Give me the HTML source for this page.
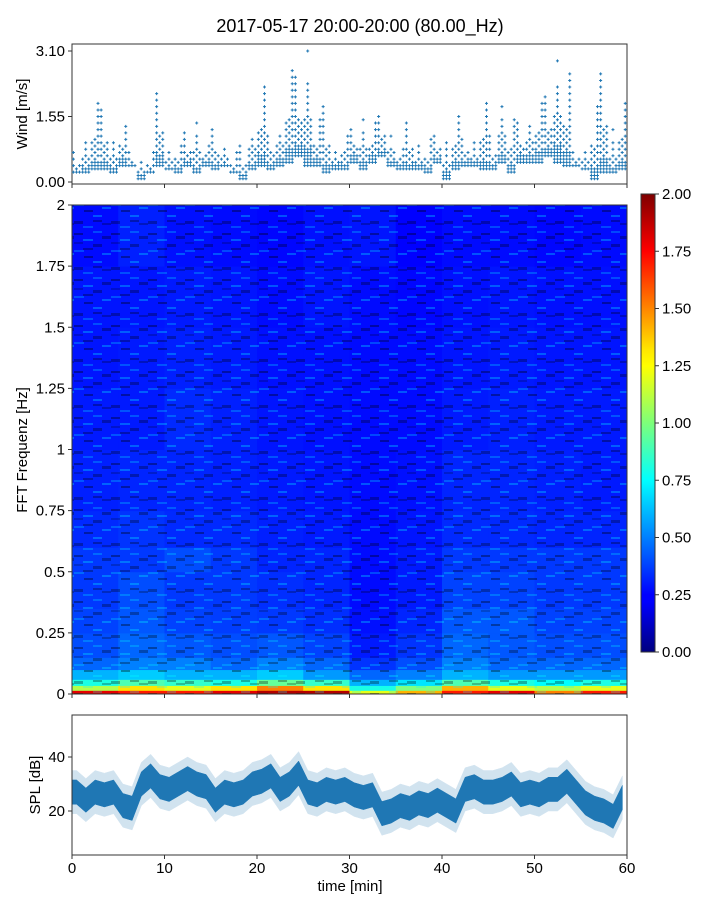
<!DOCTYPE html>
<html><head><meta charset="utf-8"><style>
body{margin:0;background:#fff;font-family:"Liberation Sans",sans-serif}
svg text{font-family:"Liberation Sans",sans-serif;fill:#000}
</style></head><body>
<svg id="c" width="720" height="900" xmlns="http://www.w3.org/2000/svg">
<defs>
<pattern id="tex" width="37" height="46" patternUnits="userSpaceOnUse">
<rect x="0" y="3" width="9" height="2" fill="#000" opacity="0.35"/>
<rect x="9" y="9" width="10" height="2" fill="#0ff" opacity="0.3"/>
<rect x="19" y="14" width="9" height="3" fill="#000" opacity="0.3"/>
<rect x="0" y="20" width="10" height="2" fill="#0ff" opacity="0.25"/>
<rect x="10" y="26" width="9" height="2" fill="#000" opacity="0.35"/>
<rect x="19" y="31" width="9" height="2" fill="#0ff" opacity="0.3"/>
<rect x="0" y="37" width="9" height="3" fill="#000" opacity="0.3"/>
<rect x="9" y="42" width="10" height="2" fill="#0ff" opacity="0.25"/>
<rect x="19" y="1" width="9" height="2" fill="#0ff" opacity="0.25"/>
<rect x="9" y="18" width="10" height="2" fill="#000" opacity="0.3"/>
<rect x="28" y="6" width="9" height="3" fill="#000" opacity="0.3"/>
<rect x="28" y="23" width="9" height="2" fill="#0ff" opacity="0.3"/>
<rect x="28" y="39" width="9" height="2" fill="#000" opacity="0.25"/>
<rect x="0" y="12" width="9" height="2" fill="#000" opacity="0.2"/>
<rect x="19" y="36" width="9" height="2" fill="#000" opacity="0.3"/>
</pattern>
<linearGradient id="jetg" x1="0" y1="1" x2="0" y2="0">
<stop offset="0" stop-color="#00007f"/><stop offset="0.11" stop-color="#0000ff"/>
<stop offset="0.125" stop-color="#0000ff"/><stop offset="0.34" stop-color="#00dbff"/>
<stop offset="0.375" stop-color="#00ffff"/><stop offset="0.5" stop-color="#7dff7a"/>
<stop offset="0.625" stop-color="#ffff00"/><stop offset="0.66" stop-color="#ffe600"/>
<stop offset="0.875" stop-color="#ff0000"/><stop offset="1" stop-color="#7f0000"/>
</linearGradient>
</defs>
<text x="360" y="32" font-size="18" text-anchor="middle">2017-05-17 20:00-20:00 (80.00_Hz)</text>
<g id="wind"></g>
<g id="heat"></g>
<g id="cbar"></g>
<g id="spl"></g>
</svg>
<script>
// ---- data ----
const windLo=[0.2,0.2,0.3,0.3,0.2,0.4,0.4,0.1,0.2,0.4,0.3,0.2,0.4,0.2,0.4,0.3,0.4,0.2,0.1,0.3,0.4,0.3,0.4,0.5,0.6,0.4,0.4,0.2,0.3,0.3,0.5,0.3,0.5,0.6,0.4,0.3,0.3,0.3,0.2,0.5,0.1,0.3,0.4,0.4,0.3,0.3,0.5,0.2,0.5,0.5,0.5,0.6,0.5,0.4,0.4,0.3,0.1,0.2,0.2,0.3];
const windHi=[0.7,1.0,1.9,1.8,1.0,1.45,0.7,0.5,0.7,2.1,0.7,1.0,1.2,1.4,1.0,1.3,0.8,0.7,0.9,1.4,2.3,1.2,1.5,2.7,2.6,3.1,1.5,1.8,1.0,1.2,1.3,1.5,1.4,1.7,1.1,0.9,1.4,0.9,1.1,1.2,1.0,1.6,1.1,1.0,1.9,1.1,1.8,1.5,1.4,1.6,2.0,2.1,2.9,2.6,0.8,0.7,1.9,2.7,1.3,1.9];
const freqEdges=[0,0.015,0.035,0.06,0.1,0.15,0.25,0.35,0.5,0.6,0.75,1,1.25,1.5,1.75,2];
const heatVals=[
[1.8,1.7,1.7,1.8,1.9,1.9,1.2,1.4,1.7,1.8,1.5,1.7],
[1.1,1.3,1.2,1.3,1.5,1.3,0.8,1.0,1.4,1.2,1.1,1.2],
[0.8,0.9,0.85,0.8,0.95,0.85,0.6,0.7,0.9,0.8,0.75,0.8],
[0.6,0.65,0.6,0.6,0.65,0.55,0.45,0.5,0.6,0.55,0.55,0.55],
[0.45,0.5,0.5,0.45,0.5,0.45,0.35,0.4,0.5,0.45,0.45,0.45],
[0.4,0.45,0.42,0.4,0.42,0.38,0.3,0.35,0.45,0.42,0.4,0.4],
[0.38,0.42,0.38,0.37,0.36,0.34,0.28,0.32,0.42,0.42,0.38,0.38],
[0.36,0.4,0.36,0.36,0.34,0.32,0.27,0.3,0.38,0.38,0.36,0.36],
[0.36,0.36,0.4,0.36,0.32,0.32,0.27,0.3,0.36,0.36,0.36,0.36],
[0.33,0.35,0.33,0.33,0.31,0.3,0.27,0.29,0.33,0.33,0.32,0.32],
[0.31,0.32,0.32,0.31,0.3,0.29,0.27,0.28,0.32,0.32,0.31,0.3],
[0.3,0.3,0.33,0.31,0.29,0.28,0.27,0.27,0.3,0.31,0.3,0.3],
[0.29,0.3,0.31,0.3,0.28,0.28,0.27,0.27,0.29,0.3,0.29,0.29],
[0.29,0.29,0.3,0.29,0.27,0.29,0.27,0.26,0.28,0.29,0.28,0.28],
[0.27,0.31,0.28,0.27,0.26,0.28,0.29,0.25,0.27,0.27,0.26,0.27]];
const splMean=[27,24,27,26,27,22,21,30,33,29,28,30,32,30,29,24,27,26,27,30,31,33,28,30,34,27,26,28,27,28,26,25,26,19,20,22,21,23,22,24,22,20,28,29,27,27,28,30,26,27,26,28,28,31,27,23,21,20,18,25];
const windTicks=[0,1.55,3.10];
const freqTicks=[0,0.25,0.5,0.75,1,1.25,1.5,1.75,2];
const freqTickLabels=["0","0.25","0.5","0.75","1","1.25","1.5","1.75","2"];
const cbTicks=[0,0.25,0.5,0.75,1,1.25,1.5,1.75,2];
const splTicks=[20,40];
const timeTicks=[0,10,20,30,40,50,60];

// ---- helpers ----
const NS="http://www.w3.org/2000/svg";
function mk(tag,attrs,parent){const e=document.createElementNS(NS,tag);for(const k in attrs)e.setAttribute(k,attrs[k]);parent.appendChild(e);return e;}
const X0=72,X1=627;
const xs=t=>X0+(X1-X0)*t/60;
const yWind=v=>182-v*(182-51)/3.1;
const yFreq=f=>694-f*(694-205)/2;
const yCb=v=>652-v*(652-194)/2;
const ySpl=v=>811-(v-20)*(811-757)/20;
function jet(v){let t=Math.max(0,Math.min(1,v/2));
 const f=x=>Math.max(0,Math.min(1,x));
 const r=f(Math.min(4*t-1.5,-4*t+4.5)),g=f(Math.min(4*t-0.5,-4*t+3.5)),b=f(Math.min(4*t+0.5,-4*t+2.5));
 return `rgb(${Math.round(r*255)},${Math.round(g*255)},${Math.round(b*255)})`;}
function frame(g,y0,y1,name){const r=mk('rect',{x:X0,y:y0,width:X1-X0,height:y1-y0,fill:'none',stroke:'#333','stroke-width':1},g);
 
 }
function ytick(g,y,label,name){mk('line',{x1:X0-4,x2:X0,y1:y,y2:y,stroke:'#333'},g);
 const t=mk('text',{x:X0-7,y:y+5,'font-size':15,'text-anchor':'end'},g);t.textContent=label;
 
 }

// ---- wind panel ----
const W=document.getElementById('wind');
frame(W,44,184,'wind-axes-frame');
const step=0.0775;
for(let m=0;m<60;m++){
 const lo=windLo[m],hi=windHi[m];
 for(let s=0;s<3;s++){
  const x=xs(m+0.15+s*0.33);
  let k=0;
  for(let v=Math.round(lo/step)*step;v<=hi+1e-6;v+=step,k++){
   const frac=(v-lo)/Math.max(0.01,hi-lo);
   if((k+s)%2===1 && frac>0.15) continue;
   if(frac>0.45 && s!==(m%3)) continue;
   if(frac>0.75 && k%2===1 && v<hi-step) continue;
   const y=yWind(v);
   const p=mk('path',{d:`M${x-1.5},${y}h3M${x},${y-1.5}v3`,stroke:'#1f77b4','stroke-width':1},W);
   
   
  }
 }
}
windTicks.forEach(v=>ytick(W,yWind(v),v.toFixed(2),'wind-y-tick'));
timeTicks.forEach(t=>mk('line',{x1:xs(t),x2:xs(t),y1:184,y2:188,stroke:'#333'},W));
const wl=mk('text',{x:27,y:114,'font-size':15,'text-anchor':'middle',transform:'rotate(-90 27 114)'},W);wl.textContent='Wind [m/s]';



// ---- heatmap ----
const H=document.getElementById('heat');
const nC=heatVals[0].length;
for(let r=0;r<heatVals.length;r++)for(let c=0;c<nC;c++){
 const x0=xs(c*60/nC),x1=xs((c+1)*60/nC),y0=yFreq(freqEdges[r+1]),y1=yFreq(freqEdges[r]);
 const cell=mk('rect',{x:x0,y:y0,width:x1-x0+0.5,height:y1-y0+0.5,fill:jet(heatVals[r][c])},H);
 
 
}
mk('rect',{x:X0,y:205,width:X1-X0,height:489,fill:'url(#tex)'},H);
frame(H,205,694,'heatmap-axes-frame');
freqTicks.forEach((f,i)=>ytick(H,yFreq(f),freqTickLabels[i],'freq-y-tick'));
timeTicks.forEach(t=>mk('line',{x1:xs(t),x2:xs(t),y1:694,y2:698,stroke:'#333'},H));
const hl=mk('text',{x:27,y:450,'font-size':15,'text-anchor':'middle',transform:'rotate(-90 27 450)'},H);hl.textContent='FFT Frequenz [Hz]';



// ---- colorbar ----
const C=document.getElementById('cbar');
mk('rect',{x:641,y:194,width:14,height:458,fill:'url(#jetg)',stroke:'#333'},C);
cbTicks.forEach(v=>{const y=yCb(v);mk('line',{x1:655,x2:659,y1:y,y2:y,stroke:'#333'},C);
 const t=mk('text',{x:662,y:y+5,'font-size':15},C);t.textContent=v.toFixed(2);
 
 });

// ---- SPL ----
const S=document.getElementById('spl');
function band(off,op,name){let d='';
 splMean.forEach((v,i)=>{d+=(i?'L':'M')+xs(i+0.5)+','+ySpl(v+off);});
 d=`M${xs(0)},${ySpl(splMean[0]+off)}L`+d.slice(1);
 for(let i=splMean.length-1;i>=0;i--)d+='L'+xs(i+0.5)+','+ySpl(splMean[i]-off);
 d+=`L${xs(0)},${ySpl(splMean[0]-off)}Z`;
 const p=mk('path',{d:d,fill:'#1f77b4',opacity:op,'stroke':'#1f77b4','stroke-width':0.5,'stroke-linejoin':'round'},S);
 
 }
band(8,0.2,'spl-envelope');band(4.5,1,'spl-line');
frame(S,715,855,'spl-axes-frame');
splTicks.forEach(v=>ytick(S,ySpl(v),String(v),'spl-y-tick'));
timeTicks.forEach(t=>{mk('line',{x1:xs(t),x2:xs(t),y1:855,y2:859,stroke:'#333'},S);
 const tx=mk('text',{x:xs(t),y:873,'font-size':15,'text-anchor':'middle'},S);tx.textContent=t;
 
 });
const xl=mk('text',{x:350,y:891,'font-size':15,'text-anchor':'middle'},S);xl.textContent='time [min]';


const sl=mk('text',{x:40,y:785,'font-size':15,'text-anchor':'middle',transform:'rotate(-90 40 785)'},S);sl.textContent='SPL [dB]';


</script>
</body></html>
